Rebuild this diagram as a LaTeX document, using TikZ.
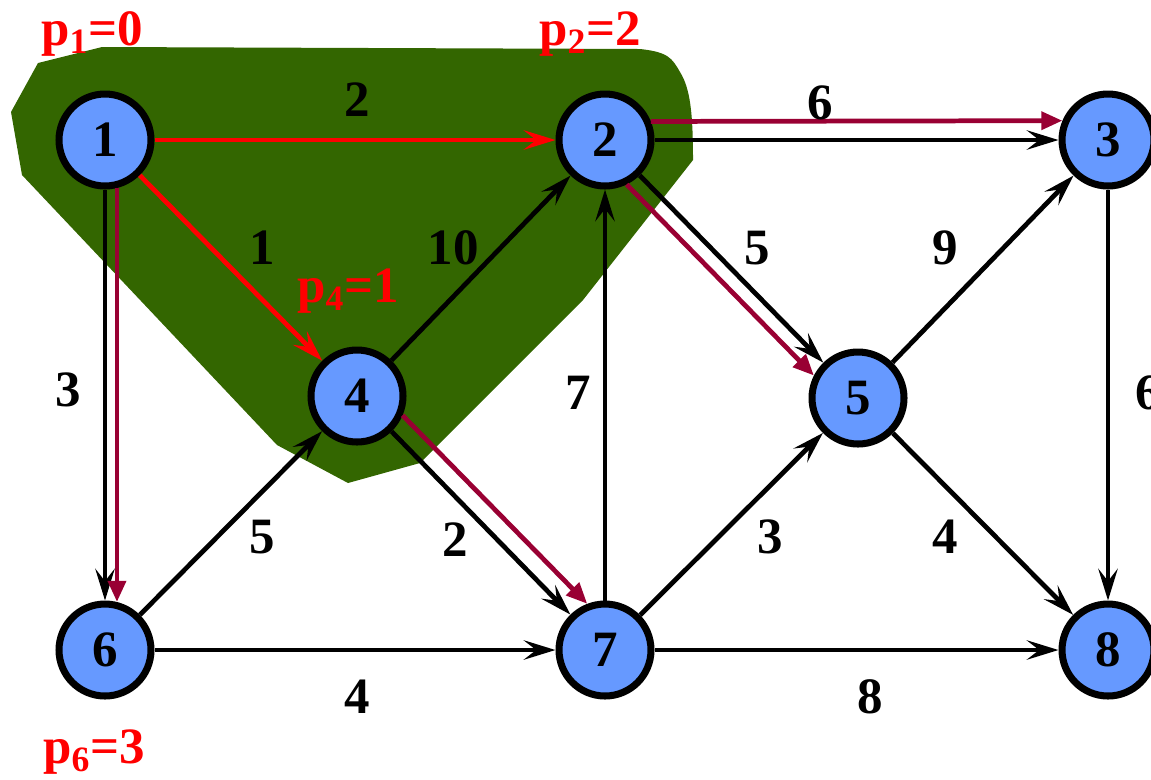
\documentclass[tikz,border=0pt]{standalone}
\usepackage{fontspec}
\setmainfont{Liberation Serif}
\usetikzlibrary{arrows.meta}
\definecolor{nodeBlue}{HTML}{6699FF}
\definecolor{regionGreen}{HTML}{336600}
\definecolor{pathRed}{HTML}{FF0000}
\definecolor{treeCrimson}{HTML}{990033}

\begin{document}
\begin{tikzpicture}[
  x=0.02cm, y=-0.02cm,
  font=\rmfamily\bfseries\fontsize{29}{32}\selectfont,
  vertex/.style={circle, draw=black, line width=4pt, fill=nodeBlue, minimum size=1.84cm, inner sep=0pt},
  wlab/.style={inner sep=0pt},
  dist/.style={text=pathRed, anchor=base, inner sep=0pt},
  link/.style={-{Stealth[length=18pt, width=11pt, inset=7pt]}, line width=2.7pt, draw=black},
  relaxarc/.style={link, draw=pathRed},
  treearc/.style={-{Triangle[length=12pt, width=10pt]}, line width=2.7pt, draw=treeCrimson}
]
\clip (0,0) rectangle (1151,779);

% settled region
\fill[regionGreen] (38,63) -- (102,47) -- (640,49)
  .. controls (668,52) and (672,58) .. (680,72)
  .. controls (690,88) and (693,112) .. (693,160)
  -- (583,300) -- (433,450) -- (420,463) -- (348,483) -- (277,445)
  -- (22,175) -- (11,112) -- cycle;

\node[vertex] (v1) at (105,140) {1};
\node[vertex] (v2) at (605,140) {2};
\node[vertex] (v3) at (1108,140) {3};
\node[vertex] (v4) at (357,396) {4};
\node[vertex] (v5) at (858,398) {5};
\node[vertex] (v6) at (105,650) {6};
\node[vertex] (v7) at (605,650) {7};
\node[vertex] (v8) at (1108,650) {8};

% edges
\draw[relaxarc] (v1) -- (v2);
\draw[relaxarc] (v1) -- (v4);
\draw[link] (v1) -- (v6);
\draw[link] (v2) -- (v3);
\draw[link] (v2) -- (v5);
\draw[link] (v4) -- (v2);
\draw[link] (v7) -- (v2);
\draw[link] (v5) -- (v3);
\draw[link] (v3) -- (v8);
\draw[link] (v6) -- (v4);
\draw[link] (v4) -- (v7);
\draw[link] (v7) -- (v5);
\draw[link] (v5) -- (v8);
\draw[link] (v6) -- (v7);
\draw[link] (v7) -- (v8);

% shortest path tree
\draw[treearc] (v1.-76.7) -- (v6.76.7);
\draw[treearc] (v2.22.6) -- (v3.157.4);
\draw[treearc] (v2.-64.5) -- (v5.153.7);
\draw[treearc] (v4.-23.1) -- (v7.111.7);

% weights
\node[wlab] (w12) at (357,100) {2};
\node[wlab] (w14) at (262,248) {1};
\node[wlab] (w16) at (68,390) {3};
\node[wlab] (w23) at (820,103) {6};
\node[wlab] (w42) at (453,248) {10};
\node[wlab] (w25) at (757,248) {5};
\node[wlab] (w53) at (945,248) {9};
\node[wlab] (w38) at (1148,393) {6};
\node[wlab] (w72) at (578,393) {7};
\node[wlab] (w64) at (262,537) {5};
\node[wlab] (w47) at (455,540) {2};
\node[wlab] (w75) at (770,537) {3};
\node[wlab] (w58) at (945,537) {4};
\node[wlab] (w67) at (357,697) {4};
\node[wlab] (w78) at (870,697) {8};

% distances
\node[dist] (p1) at (92,45) {p\textsubscript{1}=0};
\node[dist] (p2) at (590,45) {p\textsubscript{2}=2};
\node[dist] (p4) at (348,302) {p\textsubscript{4}=1};
\node[dist] (p6) at (94,763) {p\textsubscript{6}=3};
\end{tikzpicture}
\end{document}
